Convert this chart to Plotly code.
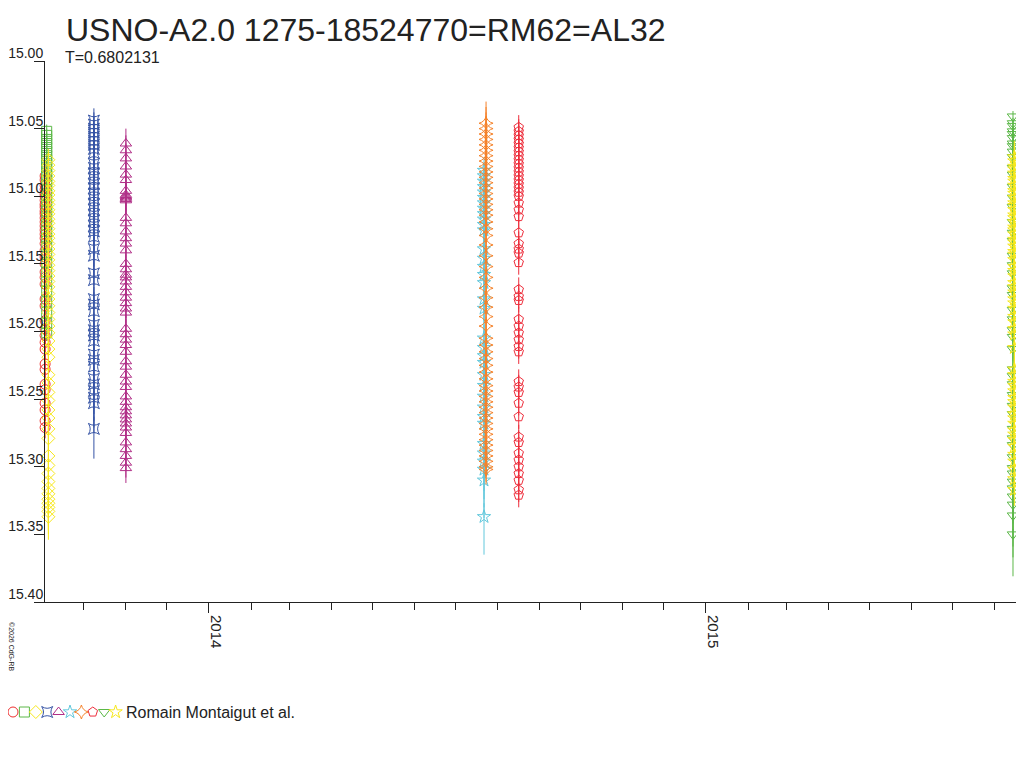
import plotly.graph_objects as go

# one entry per observing run (legend order)
series = ["run01", "run02", "run03", "run04", "run05",
          "run06", "run07", "run08", "run09", "run10"]
obs_dates = ["2013-09-02 16:00", "2013-09-03 20:00", "2013-09-05 02:00",
             "2013-10-08 12:00", "2013-11-01 00:00", "2014-07-22 00:00",
             "2014-07-23 12:00", "2014-08-16 12:00", "2015-08-14 12:00",
             "2015-08-15 12:00"]
# error bar extent below (fainter) and above (brighter) each point, in mag
err_faint = [0.008, 0.006, 0.017, 0.022, 0.011, 0.028, 0.011, 0.009, 0.031, 0.012]
err_bright = [0.008, 0.005, 0.008, 0.009, 0.011, 0.010, 0.016, 0.009, 0.004, 0.012]

mag_run01 = [15.085, 15.088, 15.092, 15.095, 15.098, 15.100, 15.103, 15.106, 15.108,
             15.111, 15.113, 15.116, 15.119, 15.122, 15.125, 15.128, 15.131, 15.135,
             15.140, 15.145, 15.150, 15.156, 15.160, 15.165, 15.176, 15.181, 15.192,
             15.198, 15.203, 15.208, 15.213, 15.224, 15.228, 15.239, 15.243, 15.253,
             15.258, 15.266, 15.271]
mag_run02 = [15.052, 15.055, 15.058, 15.061, 15.064, 15.067, 15.070, 15.073, 15.076,
             15.079, 15.082, 15.085, 15.088, 15.091, 15.095, 15.099, 15.103, 15.107,
             15.111, 15.116, 15.121, 15.126, 15.131, 15.137, 15.143, 15.149, 15.156,
             15.163, 15.170, 15.178, 15.186, 15.194, 15.201]
mag_run03 = [15.073, 15.077, 15.081, 15.085, 15.089, 15.092, 15.096, 15.099, 15.103,
             15.106, 15.110, 15.113, 15.117, 15.120, 15.124, 15.128, 15.131, 15.135,
             15.139, 15.143, 15.147, 15.151, 15.155, 15.159, 15.163, 15.167, 15.172,
             15.176, 15.181, 15.186, 15.191, 15.196, 15.201, 15.207, 15.213, 15.219,
             15.232, 15.238, 15.245, 15.251, 15.258, 15.264, 15.272, 15.279, 15.292,
             15.299, 15.305, 15.311, 15.316, 15.320, 15.324, 15.327, 15.330, 15.333,
             15.337]
mag_run04 = [15.044, 15.047, 15.050, 15.053, 15.056, 15.059, 15.062, 15.065, 15.068,
             15.076, 15.079, 15.083, 15.087, 15.091, 15.094, 15.098, 15.102, 15.106,
             15.110, 15.114, 15.118, 15.122, 15.126, 15.130, 15.139, 15.144, 15.157,
             15.162, 15.176, 15.180, 15.185, 15.195, 15.199, 15.203, 15.207, 15.217,
             15.221, 15.226, 15.235, 15.239, 15.244, 15.249, 15.253, 15.272]
mag_run05 = [15.061, 15.066, 15.072, 15.078, 15.084, 15.088, 15.096, 15.099, 15.100,
             15.101, 15.102, 15.103, 15.116, 15.120, 15.126, 15.131, 15.135, 15.140,
             15.150, 15.154, 15.158, 15.160, 15.163, 15.167, 15.171, 15.175, 15.179,
             15.183, 15.186, 15.198, 15.202, 15.206, 15.210, 15.215, 15.222, 15.226,
             15.232, 15.237, 15.241, 15.248, 15.252, 15.256, 15.259, 15.262, 15.265,
             15.268, 15.271, 15.275, 15.282, 15.287, 15.292, 15.297, 15.301]
mag_run06 = [15.081, 15.085, 15.089, 15.093, 15.097, 15.101, 15.105, 15.109, 15.113,
             15.117, 15.121, 15.125, 15.139, 15.146, 15.152, 15.158, 15.164, 15.176,
             15.183, 15.205, 15.212, 15.218, 15.223, 15.232, 15.240, 15.248, 15.256,
             15.263, 15.268, 15.283, 15.290, 15.296, 15.302, 15.310, 15.337]
mag_run07 = [15.046, 15.050, 15.054, 15.058, 15.062, 15.066, 15.070, 15.074, 15.078,
             15.082, 15.086, 15.090, 15.094, 15.098, 15.102, 15.106, 15.110, 15.114,
             15.119, 15.124, 15.129, 15.136, 15.144, 15.152, 15.160, 15.168, 15.175,
             15.182, 15.189, 15.196, 15.205, 15.210, 15.215, 15.220, 15.225, 15.230,
             15.235, 15.240, 15.244, 15.248, 15.252, 15.256, 15.260, 15.264, 15.268,
             15.272, 15.276, 15.280, 15.284, 15.288, 15.292, 15.296, 15.300, 15.302]
mag_run08 = [15.049, 15.052, 15.055, 15.058, 15.061, 15.064, 15.067, 15.070, 15.073,
             15.076, 15.079, 15.082, 15.085, 15.088, 15.091, 15.094, 15.097, 15.100,
             15.105, 15.110, 15.115, 15.127, 15.135, 15.139, 15.142, 15.149, 15.169,
             15.174, 15.177, 15.191, 15.196, 15.201, 15.206, 15.211, 15.215, 15.237,
             15.241, 15.245, 15.253, 15.263, 15.278, 15.282, 15.290, 15.295, 15.300,
             15.305, 15.310, 15.317, 15.321]
mag_run09 = [15.041, 15.046, 15.048, 15.052, 15.054, 15.057, 15.061, 15.063, 15.067,
             15.071, 15.079, 15.084, 15.093, 15.101, 15.108, 15.119, 15.127, 15.133,
             15.144, 15.151, 15.157, 15.168, 15.173, 15.184, 15.191, 15.199, 15.204,
             15.213, 15.228, 15.233, 15.239, 15.247, 15.255, 15.261, 15.272, 15.279,
             15.284, 15.293, 15.301, 15.305, 15.311, 15.316, 15.322, 15.328, 15.336,
             15.350]
mag_run10 = [15.071, 15.074, 15.078, 15.080, 15.083, 15.087, 15.089, 15.092, 15.096,
             15.098, 15.101, 15.105, 15.107, 15.110, 15.114, 15.116, 15.119, 15.123,
             15.125, 15.128, 15.132, 15.134, 15.137, 15.141, 15.143, 15.147, 15.152,
             15.155, 15.159, 15.164, 15.167, 15.171, 15.176, 15.179, 15.183, 15.189,
             15.193, 15.198, 15.202, 15.212, 15.228, 15.232, 15.237, 15.240, 15.244,
             15.249, 15.252, 15.256, 15.261, 15.264, 15.268, 15.273, 15.276, 15.280,
             15.285, 15.291, 15.296, 15.302, 15.309, 15.317]
mags = [mag_run01, mag_run02, mag_run03, mag_run04, mag_run05,
        mag_run06, mag_run07, mag_run08, mag_run09, mag_run10]

colors = ["#ee2e2e", "#5cb848", "#f7e81c", "#3553a5", "#b02f87",
          "#62c8dc", "#f5822a", "#ee2e3c", "#5cb848", "#f7e81c"]
symbols = ["circle-open", "square-open", "diamond-open", "star-square-open",
           "triangle-up-open", "star-open", "star-diamond-open", "pentagon-open",
           "triangle-down-open", "star-open"]

FONT = "Liberation Sans, Arial, sans-serif"
INK = "#222222"

# page body has an 8px margin, so the figure is laid out 8px in from the window
W, H = 1008, 752
L, R, T, B = 0, 0, 53, 14
PW, PH = W - L - R, H - T - B          # 1008 x 685
BOT = H - B                             # plot area bottom in figure px


def px_x(x):
    return (x - L) / PW


def px_y(y):
    return (BOT - y) / PH


fig = go.Figure()
for i, name in enumerate(series):
    fig.add_trace(go.Scatter(
        x=[obs_dates[i]] * len(mags[i]), y=mags[i], mode="markers", name=name,
        marker=dict(symbol=symbols[i], size=10, color=colors[i], line=dict(width=1, color=colors[i])),
        error_y=dict(type="constant", symmetric=False, value=err_faint[i], valueminus=err_bright[i],
                     thickness=1, width=0, color=colors[i]),
        cliponaxis=False, showlegend=False,
    ))

# symbol strip used as legend
step = 11.4
first = 5
fig.add_trace(go.Scatter(
    x=series, y=[0] * len(series), mode="markers", xaxis="x2", yaxis="y2",
    marker=dict(symbol=symbols, size=10, color=colors, line=dict(width=1, color=colors)),
    showlegend=False, hoverinfo="skip", cliponaxis=False,
))

fig.update_layout(
    width=W, height=H,
    margin=dict(l=L, r=R, t=T, b=B, autoexpand=False),
    paper_bgcolor="white", plot_bgcolor="white",
    font=dict(family=FONT, color=INK),
    xaxis=dict(
        domain=[px_x(37), 1], type="date", automargin=False,
        range=["2013-09-02 14:00", "2015-08-16 17:00"],
        showgrid=False, zeroline=False,
        showline=True, linecolor=INK, linewidth=1,
        ticks="outside", ticklen=10, tickcolor=INK,
        dtick="M12", tick0="2014-01-01", tickformat="%Y",
        tickangle=90, ticklabelshift=7, ticklabelstandoff=-1,
        tickfont=dict(size=15, color=INK),
        minor=dict(dtick="M1", tick0="2014-01-01", ticks="outside", ticklen=7, tickcolor=INK),
    ),
    yaxis=dict(
        domain=[px_y(594), 1], range=[15.40, 15.00], automargin=False,
        showgrid=False, zeroline=False,
        showline=True, linecolor=INK, linewidth=1,
        ticks="outside", ticklen=10, tickcolor=INK,
        dtick=0.05, tick0=15.0, tickformat=".2f",
        ticklabelshift=8, ticklabelstandoff=-12,
        tickfont=dict(size=14, color=INK),
    ),
    xaxis2=dict(domain=[0, px_x(120)], range=[-first / step, (120 - first) / step], visible=False,
                type="category", anchor="y2", automargin=False),
    yaxis2=dict(domain=[px_y(724), px_y(684)], range=[-1, 1], visible=False, anchor="x2",
                automargin=False),
    annotations=[
        dict(text="USNO-A2.0 1275-18524770=RM62=AL32", xref="paper", yref="paper",
             x=px_x(56), y=px_y(22), xanchor="left", yanchor="middle",
             showarrow=False, font=dict(size=32, color=INK)),
        dict(text="T=0.6802131", xref="paper", yref="paper",
             x=px_x(55), y=px_y(50), xanchor="left", yanchor="middle",
             showarrow=False, font=dict(size=16, color=INK)),
        dict(text="Romain Montaigut et al.", xref="paper", yref="paper",
             x=px_x(116), y=px_y(704), xanchor="left", yanchor="middle",
             showarrow=False, font=dict(size=16, color=INK)),
        dict(text="©2026 CdG-RB", xref="paper", yref="paper",
             x=px_x(4), y=px_y(638), xanchor="center", yanchor="middle",
             textangle=90, showarrow=False, font=dict(size=7, color=INK)),
    ],
)

fig.write_html("out.html")
